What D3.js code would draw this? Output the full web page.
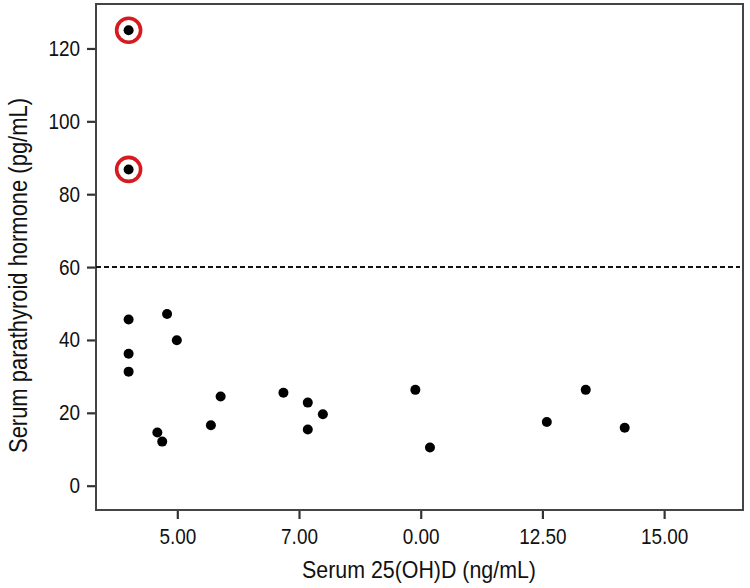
<!DOCTYPE html>
<html><head><meta charset="utf-8">
<script src="https://cdn.jsdelivr.net/npm/d3@7"></script>
<style>
body{margin:0;background:#fff;}
text{font-family:"Liberation Sans",Arial,sans-serif;fill:#111;}
</style></head>
<body><svg id="c" width="750" height="588"></svg>
<script>
const vitD = [4.0, 4.0, 4.0, 4.0, 4.0, 4.79, 4.99, 4.59, 4.69, 5.89, 5.69, 7.18, 7.68, 7.68, 7.99, 9.89, 10.19, 12.59, 13.39, 14.19];
const pth  = [125.0, 86.8, 45.6, 36.2, 31.3, 47.1, 39.9, 14.6, 12.1, 24.5, 16.6, 25.5, 22.8, 15.4, 19.6, 26.3, 10.5, 17.5, 26.3, 15.9];
const outlier = [true, true, false, false, false, false, false, false, false, false, false, false, false, false, false, false, false, false, false, false];
const xTicks = [5, 7.5, 10, 12.5, 15];
const xTickLabels = ["5.00", "7.00", "0.00", "12.50", "15.00"];
const yTicks = [0, 20, 40, 60, 80, 100, 120];
const threshold = 60;

const L = 96, R = 743, T = 4, B = 510;
const svg = d3.select("#c");
const x = d3.scaleLinear().domain([3.33, 16.62]).range([L, R]);
const y = d3.scaleLinear().domain([-6.67, 132.2]).range([B, T]);

// condense text horizontally to mimic a narrow typeface
function condense(sel, f) {
  sel.each(function() {
    const w = this.getComputedTextLength();
    d3.select(this).attr("textLength", w * f).attr("lengthAdjust", "spacingAndGlyphs");
  });
}

// axes
const xa = svg.append("g").attr("transform", `translate(0,${B})`)
  .call(d3.axisBottom(x).tickValues(xTicks).tickFormat((d,i)=>xTickLabels[i]).tickSize(9).tickPadding(9));
const ya = svg.append("g").attr("transform", `translate(${L},0)`)
  .call(d3.axisLeft(y).tickValues(yTicks).tickSize(9).tickPadding(7));
[xa, ya].forEach(a => {
  a.select(".domain").remove();
  a.selectAll(".tick line").attr("stroke", "#333").attr("stroke-width", 2.2);
  a.selectAll(".tick text").attr("font-size", 22).attr("fill", "#111")
    .style("font-family", '"Liberation Sans",Arial,sans-serif');
  condense(a.selectAll(".tick text"), 0.86);
});

// frame
svg.append("rect").attr("x", L).attr("y", T).attr("width", R - L).attr("height", B - T)
  .attr("fill", "none").attr("stroke", "#444").attr("stroke-width", 2);

// threshold line
svg.append("line").attr("x1", L).attr("x2", R - 3).attr("y1", y(threshold)).attr("y2", y(threshold))
  .attr("stroke", "#111").attr("stroke-width", 2).attr("stroke-dasharray", "5,3");

const data = vitD.map((v, i) => ({x: v, y: pth[i], o: outlier[i]}));

// outlier rings
svg.append("g").selectAll("circle").data(data.filter(d => d.o)).join("circle")
  .attr("cx", d => x(d.x)).attr("cy", d => y(d.y)).attr("r", 12)
  .attr("fill", "none").attr("stroke", "#d71920").attr("stroke-width", 3.6);

// points
svg.append("g").selectAll("circle").data(data).join("circle")
  .attr("cx", d => x(d.x)).attr("cy", d => y(d.y)).attr("r", 5).attr("fill", "#000");

// axis titles
svg.append("text").attr("x", 419).attr("y", 578).attr("text-anchor", "middle")
  .attr("font-size", 24).attr("textLength", 234).attr("lengthAdjust", "spacingAndGlyphs")
  .text("Serum 25(OH)D (ng/mL)");
svg.append("text").attr("transform", "translate(27,275.5) rotate(-90)").attr("text-anchor", "middle")
  .attr("font-size", 25).attr("textLength", 355).attr("lengthAdjust", "spacingAndGlyphs")
  .text("Serum parathyroid hormone (pg/mL)");
</script></body></html>
